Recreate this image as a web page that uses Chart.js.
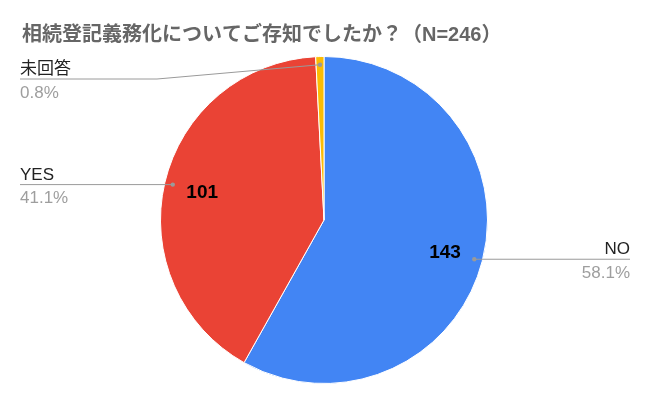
<!DOCTYPE html>
<html>
<head>
<meta charset="utf-8">
<script src="https://cdn.jsdelivr.net/npm/chart.js@4/dist/chart.umd.min.js"></script>
<style>
  html, body { margin: 0; padding: 0; background: #fff; }
  #wrap { width: 650px; height: 403px; position: relative; }
</style>
</head>
<body>
<div id="wrap"><canvas id="c" width="650" height="403"></canvas></div>
<script>
const titleText = '相続登記義務化についてご存知でしたか？（N=246）';
const categories = ['NO', 'YES', '未回答'];
const values = [143, 101, 2];
const colors = ['#4285F4', '#EA4335', '#FBBC04'];
const showValue = [true, true, false];

const FONT = "'Liberation Sans', Arial, 'Noto Sans CJK JP', sans-serif";

// label placement (layout only)
const labelLayout = [
  { side: 'right', x: 630 },
  { side: 'left', x: 20 },
  { side: 'left', x: 20, y: 79, elbowX: 157 }
];

const total = values.reduce((a, b) => a + b, 0);

const labelPlugin = {
  id: 'pieLabels',
  afterDraw(chart) {
    const ctx = chart.ctx;
    // title
    ctx.save();
    ctx.font = "bold 20px " + FONT;
    ctx.fillStyle = '#666666';
    ctx.textAlign = 'left';
    ctx.textBaseline = 'alphabetic';
    ctx.fillText(titleText, 22, 41);
    ctx.restore();

    const meta = chart.getDatasetMeta(0);
    meta.data.forEach((arc, i) => {
      const p = arc.getProps(['x', 'y', 'startAngle', 'endAngle', 'outerRadius'], true);
      const mid = (p.startAngle + p.endAngle) / 2;
      // value label
      if (showValue[i]) {
        const vr = p.outerRadius * 0.765;
        ctx.save();
        ctx.font = "bold 19px " + FONT;
        ctx.fillStyle = '#000';
        ctx.textAlign = 'center';
        ctx.textBaseline = 'middle';
        ctx.fillText(String(values[i]), p.x + Math.cos(mid) * vr, p.y + Math.sin(mid) * vr + 1);
        ctx.restore();
      }
      // leader
      const dr = p.outerRadius * 0.95;
      const dx = p.x + Math.cos(mid) * dr;
      const dy = p.y + Math.sin(mid) * dr;
      const L = labelLayout[i];
      const ly = (L.y !== undefined) ? L.y : dy;
      ctx.save();
      ctx.strokeStyle = '#9a9a9a';
      ctx.lineWidth = 1;
      ctx.beginPath();
      ctx.moveTo(L.x, ly);
      if (L.elbowX !== undefined) {
        ctx.lineTo(L.elbowX, ly);
        ctx.lineTo(dx, dy);
      } else {
        ctx.lineTo(dx, ly);
      }
      ctx.stroke();
      ctx.fillStyle = '#9a9a9a';
      ctx.beginPath();
      ctx.arc(dx, dy, 2.2, 0, Math.PI * 2);
      ctx.fill();
      // texts
      ctx.textAlign = L.side === 'right' ? 'right' : 'left';
      ctx.textBaseline = 'alphabetic';
      ctx.font = "17px " + FONT;
      ctx.fillStyle = '#222222';
      ctx.fillText(categories[i], L.x, ly - 5);
      ctx.fillStyle = '#9e9e9e';
      ctx.fillText((values[i] / total * 100).toFixed(1) + '%', L.x, ly + 18.5);
      ctx.restore();
    });
  }
};

new Chart(document.getElementById('c'), {
  type: 'pie',
  data: {
    labels: categories,
    datasets: [{
      data: values,
      backgroundColor: colors,
      borderColor: '#ffffff',
      borderWidth: 1
    }]
  },
  options: {
    responsive: false,
    animation: false,
    layout: { padding: { left: 160, right: 162, top: 56, bottom: 19 } },
    plugins: {
      legend: { display: false },
      title: { display: false },
      tooltip: { enabled: false }
    }
  },
  plugins: [labelPlugin]
});
</script>
</body>
</html>
